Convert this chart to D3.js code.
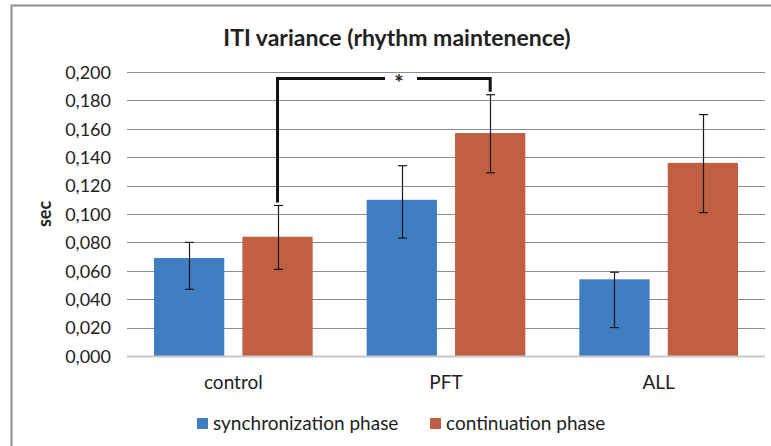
<!DOCTYPE html>
<html>
<head>
<meta charset="utf-8">
<script src="https://cdn.jsdelivr.net/npm/d3@7"></script>
<style>
  body { margin: 0; background: #fff; }
  text { font-family: Lato, "Open Sans", sans-serif; fill: #222; }
</style>
</head>
<body>
<div id="chart"></div>
<script>
// chart data
var groups = ['control', 'PFT', 'ALL'];
var seriesNames = ['synchronization phase', 'continuation phase'];
var syncValues = [0.069, 0.110, 0.054];
var contValues = [0.084, 0.157, 0.136];
// error bar ends (upper / lower)
var syncUpper = [0.080, 0.134, 0.059];
var syncLower = [0.047, 0.083, 0.020];
var contUpper = [0.106, 0.184, 0.170];
var contLower = [0.061, 0.129, 0.101];
var yTicks = [0, 0.02, 0.04, 0.06, 0.08, 0.1, 0.12, 0.14, 0.16, 0.18, 0.2];
var colors = ['#3f7fc1', '#c05f42'];

var width = 771, height = 446;
var plot = { left: 127, right: 765, top: 72, bottom: 356 };

var svg = d3.select('#chart').append('svg')
  .attr('width', width)
  .attr('height', height);

// outer frame (only top and left visible)
svg.append('path')
  .attr('d', 'M11.5,' + height + 'V5.5H' + width)
  .attr('fill', 'none')
  .attr('stroke', '#8e8e8e')
  .attr('stroke-width', 2);

var x = d3.scaleBand()
  .domain(groups)
  .range([plot.left, plot.right]);

var xInner = d3.scaleBand()
  .domain([0, 1])
  .range([27, x.bandwidth() - 27])
  .paddingInner(0.205);

var y = d3.scaleLinear()
  .domain([0, 0.2])
  .range([plot.bottom, plot.top]);

// gridlines
svg.append('g').selectAll('line')
  .data(yTicks.slice(1))
  .enter().append('line')
  .attr('x1', plot.left).attr('x2', plot.right)
  .attr('y1', function(d) { return Math.round(y(d)) + 0.5; })
  .attr('y2', function(d) { return Math.round(y(d)) + 0.5; })
  .attr('stroke', '#8c8c8c')
  .attr('stroke-width', 1);

// y axis labels
var leftAxis = d3.axisLeft(y)
  .tickValues(yTicks)
  .tickSize(0)
  .tickPadding(16)
  .tickFormat(function(d) { return d3.format('.3f')(d).replace('.', ','); });

var yAxisG = svg.append('g')
  .attr('transform', 'translate(' + plot.left + ',0)')
  .call(leftAxis);
yAxisG.select('.domain').remove();
yAxisG.selectAll('text')
  .attr('font-size', 18)
  .attr('font-family', 'Lato, sans-serif')
  .attr('fill', '#222')
  .attr('dy', '0.35em');

// bars
var rows = groups.map(function(g, i) {
  return [
    { group: g, s: 0, v: syncValues[i], hi: syncUpper[i], lo: syncLower[i] },
    { group: g, s: 1, v: contValues[i], hi: contUpper[i], lo: contLower[i] }
  ];
});
var flat = [].concat.apply([], rows);

svg.append('g').selectAll('rect')
  .data(flat)
  .enter().append('rect')
  .attr('x', function(d) { return x(d.group) + xInner(d.s); })
  .attr('y', function(d) { return y(d.v); })
  .attr('width', xInner.bandwidth())
  .attr('height', function(d) { return y(0) - y(d.v); })
  .attr('fill', function(d) { return colors[d.s]; });

// baseline
svg.append('line')
  .attr('x1', plot.left).attr('x2', plot.right)
  .attr('y1', plot.bottom + 0.5).attr('y2', plot.bottom + 0.5)
  .attr('stroke', '#c8c8c8')
  .attr('stroke-width', 2);

// error bars
var barCenter = function(d) { return x(d.group) + xInner(d.s) + xInner.bandwidth() / 2; };
var errG = svg.append('g').selectAll('g')
  .data(flat)
  .enter().append('g')
  .attr('stroke', '#1a1a1a')
  .attr('stroke-width', 1.2);
errG.append('line')
  .attr('x1', function(d) { return Math.round(barCenter(d)) + 0.5; })
  .attr('x2', function(d) { return Math.round(barCenter(d)) + 0.5; })
  .attr('y1', function(d) { return y(d.hi); })
  .attr('y2', function(d) { return y(d.lo); });
['hi', 'lo'].forEach(function(k) {
  errG.append('line')
    .attr('x1', function(d) { return Math.round(barCenter(d)) - 4; })
    .attr('x2', function(d) { return Math.round(barCenter(d)) + 5; })
    .attr('y1', function(d) { return y(d[k]); })
    .attr('y2', function(d) { return y(d[k]); });
});

// significance bracket between control and PFT continuation bars
var bLeft = barCenter(flat[1]), bRight = barCenter(flat[3]);
var bTop = y(0.1955);
var starX = 399;
svg.append('path')
  .attr('d', 'M' + bLeft + ',' + (y(contUpper[0]) - 3) + 'V' + bTop + 'H' + (starX - 14))
  .attr('fill', 'none')
  .attr('stroke', '#111')
  .attr('stroke-width', 3);
svg.append('path')
  .attr('d', 'M' + (starX + 18) + ',' + bTop + 'H' + bRight + 'V' + (y(contUpper[1]) - 3))
  .attr('fill', 'none')
  .attr('stroke', '#111')
  .attr('stroke-width', 3);
svg.append('text')
  .attr('x', starX)
  .attr('y', bTop + 13)
  .attr('text-anchor', 'middle')
  .attr('font-size', 22)
  .attr('font-weight', 'bold')
  .text('*');

// x labels
svg.append('g').selectAll('text')
  .data(groups)
  .enter().append('text')
  .attr('x', function(d) { return x(d) + x.bandwidth() / 2; })
  .attr('y', 389)
  .attr('text-anchor', 'middle')
  .attr('font-size', 19)
  .text(function(d) { return d; });

// title
svg.append('text')
  .attr('x', 397)
  .attr('y', 46)
  .attr('text-anchor', 'middle')
  .attr('font-size', 23)
  .attr('font-weight', 'bold')
  .text('ITI variance (rhythm maintenence)');

// y axis title
svg.append('text')
  .attr('transform', 'translate(51,214)rotate(-90)')
  .attr('text-anchor', 'middle')
  .attr('font-size', 18)
  .attr('font-weight', 'bold')
  .text('sec');

// legend
var legendX = [197, 430];
var legend = svg.append('g').selectAll('g')
  .data(seriesNames)
  .enter().append('g')
  .attr('transform', function(d, i) { return 'translate(' + legendX[i] + ',418)'; });
legend.append('rect')
  .attr('width', 11).attr('height', 11)
  .attr('fill', function(d, i) { return colors[i]; });
legend.append('text')
  .attr('x', 16)
  .attr('y', 12)
  .attr('font-size', 19)
  .text(function(d) { return d; });
</script>
</body>
</html>
